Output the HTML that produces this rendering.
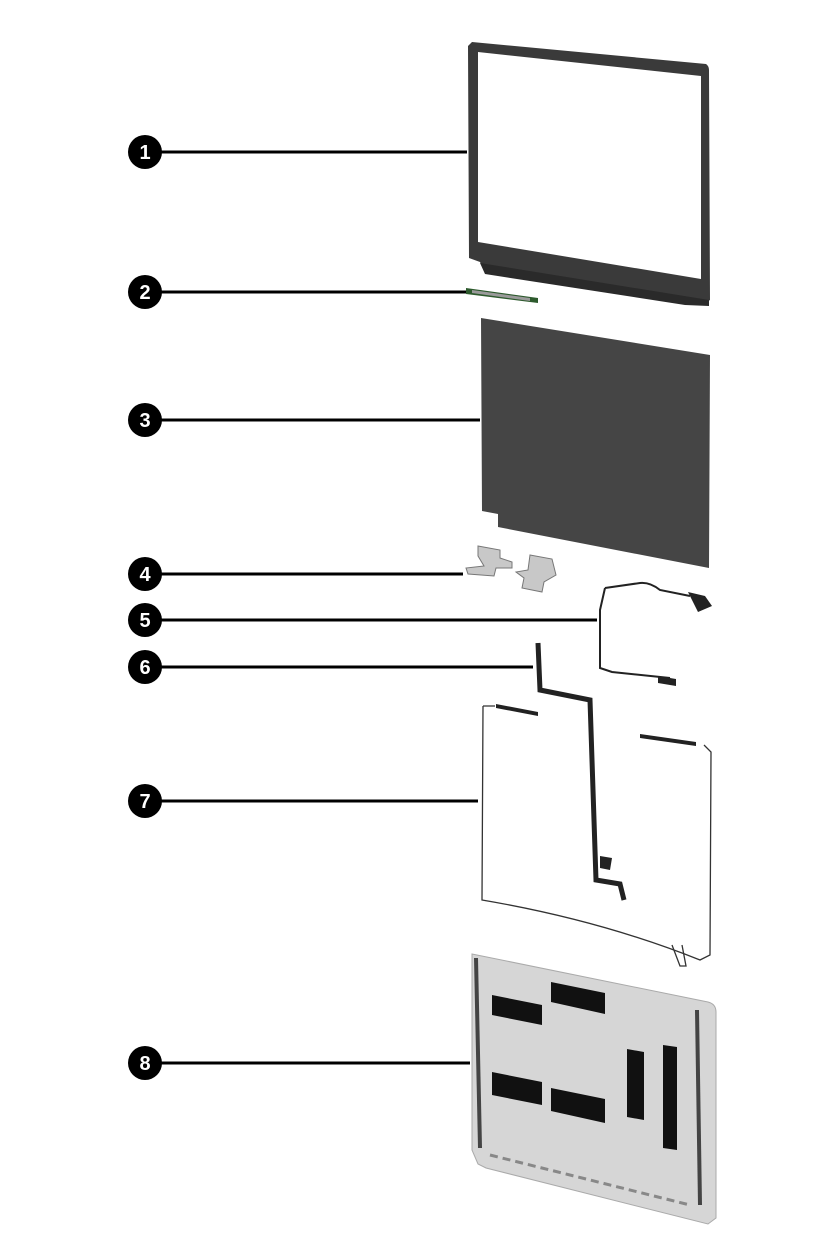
<!DOCTYPE html>
<html><head><style>body{margin:0;background:#fff}svg{display:block}</style></head><body>
<svg width="834" height="1251" viewBox="0 0 834 1251" xmlns="http://www.w3.org/2000/svg">
<g stroke="#000" stroke-width="3">
<line x1="160" y1="152" x2="467" y2="152"/>
<line x1="160" y1="292" x2="466" y2="292"/>
<line x1="160" y1="420" x2="480" y2="420"/>
<line x1="160" y1="574" x2="463" y2="574"/>
<line x1="160" y1="620" x2="597" y2="620"/>
<line x1="160" y1="667" x2="533" y2="667"/>
<line x1="160" y1="801" x2="478" y2="801"/>
<line x1="160" y1="1063" x2="470" y2="1063"/>
</g>
<g font-family="Liberation Sans, sans-serif" font-weight="bold" font-size="20" fill="#fff" text-anchor="middle">
<circle cx="145" cy="152" r="17" fill="#000"/><text x="145" y="159">1</text>
<circle cx="145" cy="292" r="17" fill="#000"/><text x="145" y="299">2</text>
<circle cx="145" cy="420" r="17" fill="#000"/><text x="145" y="427">3</text>
<circle cx="145" cy="574" r="17" fill="#000"/><text x="145" y="581">4</text>
<circle cx="145" cy="620" r="17" fill="#000"/><text x="145" y="627">5</text>
<circle cx="145" cy="667" r="17" fill="#000"/><text x="145" y="674">6</text>
<circle cx="145" cy="801" r="17" fill="#000"/><text x="145" y="808">7</text>
<circle cx="145" cy="1063" r="17" fill="#000"/><text x="145" y="1070">8</text>
</g>
<!-- 1 bezel -->
<path d="M472,42 L706,64 Q709,66 709,70 L710,300 L704,304 L484,270 L480,262 L469,258 L468,46 Z" fill="#3a3a3a"/>
<path d="M480,263 L709,300 L709,306 L685,305 L485,274 Z" fill="#2a2a2a"/>
<path d="M478,52 L701,76 L701,279 L478,242 Z" fill="#fff"/>
<!-- 2 camera -->
<path d="M466,288 L538,298 L538,303 L466,294 Z" fill="#2d5a2d"/>
<path d="M472,290 L530,298 L530,301 L472,293 Z" fill="#9a9a9a"/>
<!-- 3 panel -->
<path d="M481,318 L710,355 L709,568 L498,527 L498,514 L482,511 Z" fill="#454545"/>
<!-- 4 hinges -->
<g fill="#c8c8c8" stroke="#777" stroke-width="1">
<path d="M478,546 L500,550 L500,558 L512,562 L512,568 L496,568 L494,576 L468,574 L466,568 L484,566 L478,556 Z"/>
<path d="M530,555 L552,559 L556,575 L544,582 L542,592 L522,588 L524,578 L516,572 L528,570 Z"/>
</g>
<!-- 5 cable -->
<path d="M605,588 L640,583 Q650,582 660,590 L690,596 M605,588 L600,610 L600,668 L612,672 L670,678" fill="none" stroke="#222" stroke-width="2"/>
<path d="M688,592 L705,596 L712,606 L698,612 Z" fill="#222"/>
<path d="M658,676 L676,679 L676,686 L658,683 Z" fill="#222"/>
<!-- 6 flex -->
<path d="M538,643 L540,690 L590,700 L596,880 L620,884 L624,900" fill="none" stroke="#222" stroke-width="5"/>
<path d="M600,856 L612,858 L610,870 L600,868 Z" fill="#222"/>
<!-- 7 antenna -->
<path d="M483,706 L482,900 Q600,920 700,960 L710,955 L711,752 L704,745 M483,706 L495,706" fill="none" stroke="#333" stroke-width="1.3"/>
<path d="M496,704 L538,712 L538,716 L496,708 Z M640,734 L696,742 L696,746 L640,738 Z" fill="#222"/>
<path d="M672,945 L680,966 L686,966 L682,945" fill="none" stroke="#333" stroke-width="1.3"/>
<!-- 8 back cover -->
<path d="M472,954 L708,1002 Q716,1004 716,1012 L716,1218 L708,1224 L486,1168 L478,1164 L472,1150 Z" fill="#d6d6d6" stroke="#aaa" stroke-width="1"/>
<path d="M476,958 L480,1148" stroke="#444" stroke-width="4"/>
<path d="M697,1010 L700,1205" stroke="#444" stroke-width="4"/>
<path d="M492,995 L542,1005 L542,1025 L492,1015 Z" fill="#111"/>
<path d="M551,982 L605,993 L605,1014 L551,1002 Z" fill="#111"/>
<path d="M492,1072 L542,1082 L542,1105 L492,1095 Z" fill="#111"/>
<path d="M551,1088 L605,1099 L605,1123 L551,1111 Z" fill="#111"/>
<path d="M627,1049 L644,1052 L644,1120 L627,1117 Z" fill="#111"/>
<path d="M663,1045 L677,1047 L677,1150 L663,1148 Z" fill="#111"/>
<path d="M490,1155 L690,1205" stroke="#888" stroke-width="3" stroke-dasharray="8 5"/>
</svg>
</body></html>
